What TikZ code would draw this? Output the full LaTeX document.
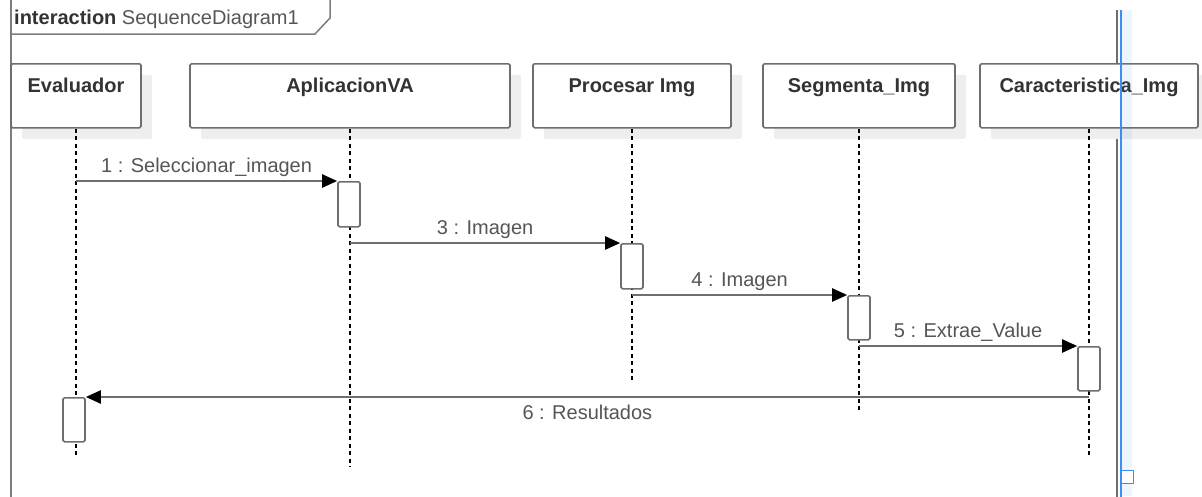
\documentclass[tikz,border=0pt]{standalone}
\usepackage{fontspec}
\setmainfont{Liberation Sans}
\usetikzlibrary{arrows.meta,shadows,calc}

\definecolor{edge}{HTML}{6E6E6E}
\definecolor{ink}{HTML}{333333}
\definecolor{msgtext}{HTML}{555555}
\definecolor{shade}{HTML}{EEEEEE}
\definecolor{selblue}{HTML}{3D8EF0}

\begin{document}
\begin{tikzpicture}[x=1pt,y=-1pt,
  frameline/.style={draw=edge!90, line width=1.5pt},
  head/.style={draw=edge, line width=1.6pt, fill=white, rounded corners=1.5pt,
    minimum height=64pt, inner sep=0pt, anchor=north,
    drop shadow={shadow xshift=11pt, shadow yshift=-11pt, fill=shade, opacity=1}},
  headtext/.style={font=\bfseries\fontsize{20}{24}\selectfont, text=ink, anchor=base, inner sep=0pt},
  lifeline/.style={draw=black, line width=1.2pt, dash pattern=on 4pt off 3.5pt},
  activation/.style={draw=edge, line width=1.6pt, fill=white, rounded corners=1.5pt,
    minimum width=22pt, inner sep=0pt, anchor=north},
  msg/.style={draw=edge, line width=2.2pt, -{Triangle[length=15pt,width=13pt,color=black]}},
  msglabel/.style={font=\fontsize{20}{24}\selectfont, text=msgtext, anchor=base, inner sep=0pt}
]
\useasboundingbox (0,0) rectangle (1202,496);

% interaction frame and its name tab
\draw[frameline] (11,-5) -- (11,500);
\draw[frameline] (11,34) -- (315,34) -- (330,18) -- (330,-5);
\node[anchor=base west, inner sep=0pt, font=\fontsize{20}{24}\selectfont] (title) at (14,24)
  {\textcolor{ink}{\bfseries interaction} \textcolor{msgtext}{SequenceDiagram1}};
\draw[draw=edge, line width=2pt] (1117,10) -- (1117,500);

% lifeline heads
\node[head, minimum width=130pt] (ev) at (76,63) {};
\node[head, minimum width=320pt] (ap) at (350,63) {};
\node[head, minimum width=198pt] (pr) at (632,63) {};
\node[head, minimum width=192pt] (sg) at (859,63) {};
\node[head, minimum width=218pt] (ca) at (1089,63) {};

\node[headtext] (evt) at (76,92) {Evaluador};
\node[headtext] (apt) at (350,92) {AplicacionVA};
\node[headtext] (prt) at (632,92) {Procesar Img};
\node[headtext] (sgt) at (859,92) {Segmenta\_Img};
\node[headtext] (cat) at (1089,92) {Caracteristica\_Img};

% lifelines
\coordinate (evEnd) at (76,458);
\coordinate (apEnd) at (350,467);
\coordinate (prEnd) at (632,383);
\coordinate (sgEnd) at (859,412);
\coordinate (caEnd) at (1089,458);
\draw[lifeline] (ev.south) -- (evEnd);
\draw[lifeline] (ap.south) -- (apEnd);
\draw[lifeline] (pr.south) -- (prEnd);
\draw[lifeline] (sg.south) -- (sgEnd);
\draw[lifeline] (ca.south) -- (caEnd);

% activation bars
\node[activation, minimum height=45pt] (a1) at (349,181) {};
\node[activation, minimum height=45pt] (a2) at (632,243) {};
\node[activation, minimum height=44pt] (a3) at (859,295) {};
\node[activation, minimum height=44pt] (a4) at (1089,346) {};
\node[activation, minimum height=44pt] (a5) at (74,397) {};

% messages
\coordinate (m1) at (ev.south |- a1.north);
\coordinate (m3) at (ap.south |- a2.north);
\coordinate (m4) at (pr.south |- a3.north);
\coordinate (m5) at (sg.south |- a4.north);
\coordinate (m6) at (ca.south |- a5.north);

\draw[msg] (m1) -- node[msglabel, yshift=9pt] (l1) {1 : Seleccionar\_imagen} (a1.north west);
\draw[msg] (m3) -- node[msglabel, yshift=9pt] (l3) {3 : Imagen} (a2.north west);
\draw[msg] (m4) -- node[msglabel, yshift=9pt] (l4) {4 : Imagen} (a3.north west);
\draw[msg] (m5) -- node[msglabel, yshift=9pt] (l5) {5 : Extrae\_Value} (a4.north west);
\draw[msg] (m6) -- node[msglabel, yshift=-22pt] (l6) {6 : Resultados} (a5.north east);

% selection guide on the right
\fill[selblue, opacity=0.09] (1122,10) rectangle (1132,496);
\draw[selblue, line width=1.2pt] (1121,10) -- (1121,500);
\draw[selblue, fill=white, line width=1pt] (1121,470) rectangle (1133,483);
\end{tikzpicture}
\end{document}
